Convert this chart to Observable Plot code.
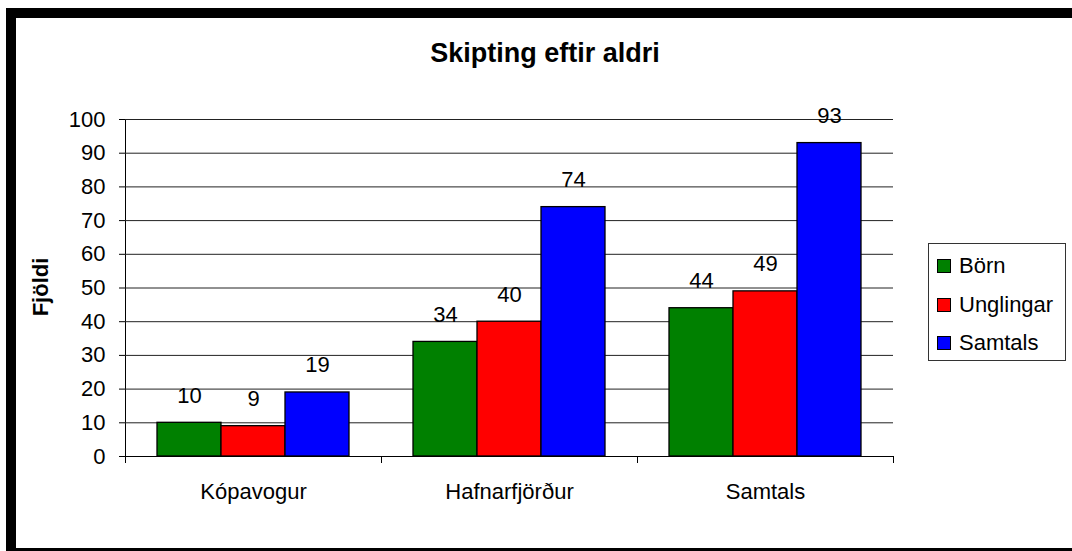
<!DOCTYPE html>
<html>
<head>
<meta charset="utf-8">
<script src="https://cdn.jsdelivr.net/npm/d3@7"></script>
<script src="https://cdn.jsdelivr.net/npm/@observablehq/plot@0.6"></script>
<style>
  html, body { margin: 0; padding: 0; background: #fff; }
  #page { position: relative; width: 1072px; height: 551px; overflow: hidden; font-family: "Liberation Sans", Arial, sans-serif; color: #000; }
  #border { position: absolute; left: 6px; top: 8px; width: 1100px; height: 530px; border: 10px solid #000; }
  #chart { position: absolute; left: 0; top: 0; }
  #title { position: absolute; left: 0; top: 40px; width: 1090px; text-align: center; font-size: 27px; line-height: 27px; font-weight: bold; }
  #ylabel { position: absolute; left: 41px; top: 287px; transform: translate(-50%, -50%) rotate(-90deg); font-size: 22px; line-height: 22px; font-weight: bold; white-space: nowrap; }
  #legend { position: absolute; left: 928px; top: 243px; width: 136px; height: 116px; border: 1px solid #333; background: #fff; }
  .row { position: absolute; left: 8px; display: flex; align-items: center; height: 22px; }
  .sw { width: 14px; height: 14px; box-sizing: border-box; border: 1px solid #000; margin-right: 8px; }
  .lt { font-size: 22px; line-height: 22px; white-space: nowrap; }
</style>
</head>
<body>
<div id="page">
  <div id="border"></div>
  <div id="chart"></div>
  <div id="title">Skipting eftir aldri</div>
  <div id="ylabel">Fjöldi</div>
  <div id="legend"></div>
</div>
<script>
const categories = ["Kópavogur", "Hafnarfjörður", "Samtals"];
const series = ["Börn", "Unglingar", "Samtals"];
const colors = ["#008000", "#ff0000", "#0000ff"];
const bornValues = [10, 34, 44];
const unglingarValues = [9, 40, 49];
const samtalsValues = [19, 74, 93];
const yTicks = [0, 10, 20, 30, 40, 50, 60, 70, 80, 90, 100];

const valuesBySeries = [bornValues, unglingarValues, samtalsValues];
const rows = categories.flatMap((c, i) =>
  series.map((s, j) => ({category: c, series: s, value: valuesBySeries[j][i]}))
);

const chart = Plot.plot({
  width: 1072,
  height: 551,
  marginLeft: 124,
  marginRight: 179,
  marginTop: 119,
  marginBottom: 95,
  style: {fontFamily: "'Liberation Sans', Arial, sans-serif", fontSize: "22px", background: "transparent", color: "#000"},
  fx: {domain: categories, padding: 0, axis: "bottom", tickSize: 0, tickPadding: 27, label: null},
  x: {domain: series, paddingInner: 0, paddingOuter: 0.5, axis: null},
  y: {domain: [0, 100], ticks: yTicks, tickSize: 6, tickPadding: 14, label: null, line: true},
  color: {domain: series, range: colors},
  marks: [
    Plot.ruleY(yTicks.filter(t => t > 0), {stroke: "#222", strokeWidth: 1}),
    Plot.barY(rows, {fx: "category", x: "series", y: "value", fill: "series", stroke: "#000", strokeWidth: 1.3}),
    Plot.text(rows, {fx: "category", x: "series", y: "value", text: d => String(d.value), lineAnchor: "bottom", dy: -20, fontSize: 22}),
    Plot.ruleY([0], {stroke: "#000"}),
    Plot.frame({anchor: "left", insetTop: 337, insetBottom: -6}),
    Plot.frame({anchor: "right", insetTop: 337, insetBottom: -6})
  ]
});
document.getElementById("chart").appendChild(chart);

const legend = document.getElementById("legend");
const rowTops = [11, 50, 88];
series.forEach((s, i) => {
  const r = document.createElement("div");
  r.className = "row";
  r.style.top = rowTops[i] + "px";
  const sw = document.createElement("div");
  sw.className = "sw";
  sw.style.background = colors[i];
  const t = document.createElement("span");
  t.className = "lt";
  t.textContent = s;
  r.appendChild(sw);
  r.appendChild(t);
  legend.appendChild(r);
});
</script>
</body>
</html>
